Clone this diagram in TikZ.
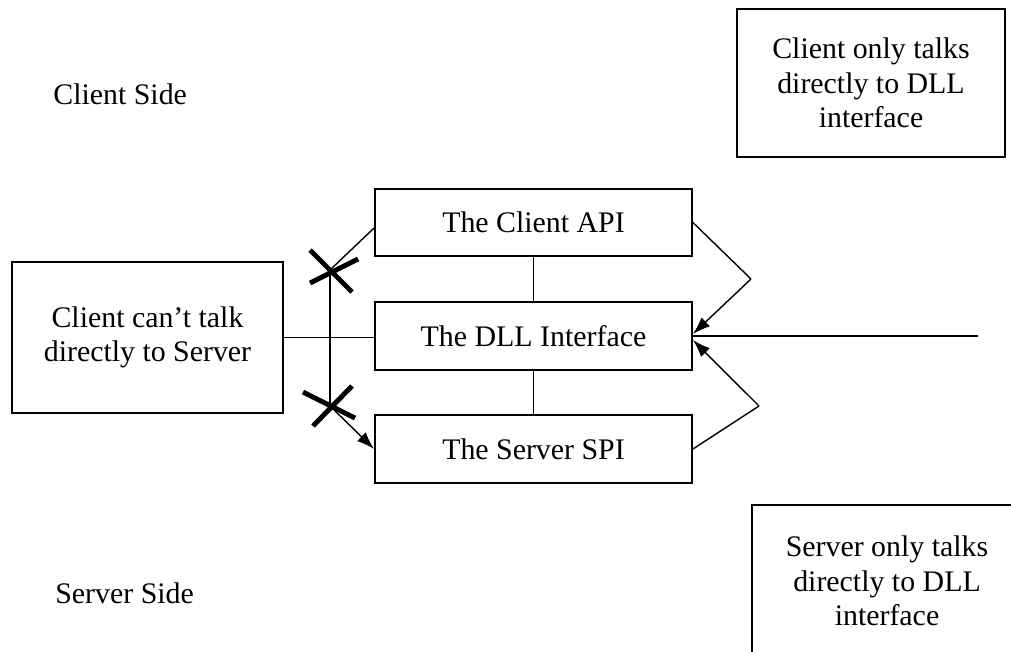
\documentclass[tikz,border=0pt]{standalone}
\usepackage{fontspec}
\setmainfont{Liberation Serif}
\usetikzlibrary{arrows.meta}
\tikzset{
  box/.style={draw, line width=1.1pt, inner sep=0pt, align=center, font=\fontsize{17}{19.5}\selectfont},
  plain/.style={inner sep=0pt, align=center, font=\fontsize{17}{19.5}\selectfont},
  frame/.style={line width=1.1pt},
  link/.style={line width=0.8pt},
  cross/.style={line width=2.8pt},
  tip/.style={-{Latex[length=10pt,width=7pt]}}
}
\begin{document}
\begin{tikzpicture}[x=0.02cm,y=-0.02cm]
\useasboundingbox (0,0) rectangle (1011,652);

\node[box, minimum width=6.34cm, minimum height=1.34cm] (api) at (533.5,222.5) {The Client API};
\node[box, minimum width=6.34cm, minimum height=1.36cm] (dll) at (533.5,336) {The DLL Interface};
\node[box, minimum width=6.34cm, minimum height=1.36cm] (spi) at (533.5,449) {The Server SPI};
\node[box, minimum width=5.42cm, minimum height=3.02cm] (cant) at (147.5,337.5) {Client can’t talk\\directly to Server};
\node[box, minimum width=5.36cm, minimum height=2.96cm] (conly) at (871,83) {Client only talks\\directly to DLL\\interface};
\node[plain] (sonly) at (887,581) {Server only talks\\directly to DLL\\interface};
\draw[frame] (752,652) |- (1011,505);

\node[plain, anchor=base west] (cside) at (53,105) {Client Side};
\node[plain, anchor=base west] (sside) at (55,603) {Server Side};

\coordinate (xa) at (330,270);
\coordinate (xb) at (330,406);
\coordinate (ra) at (751,279);
\coordinate (rb) at (759,406);
\coordinate (rc) at (978,336);

\draw[link] (cant.east) -- (cant.east -| dll.west);
\draw[link] (xa) -- (xb);
\draw[link] (xa) -- ([yshift=-0.11cm]api.west);
\draw[link,tip] (xb) -- (spi.west);
\draw[link] (api) -- (dll);
\draw[link] (dll) -- (spi);

\draw[link] (api.east) -- (ra);
\draw[link,tip] (ra) -- ([yshift=0.04cm]dll.east);
\draw[link] (spi.east) -- (rb);
\draw[link,tip] (rb) -- ([yshift=-0.08cm]dll.east);
\draw[link] (rc) -- (rc -| dll.east);

\draw[cross] (310,250) -- (352,292) (310,283) -- (358,259);
\draw[cross] (303,392) -- (355,418) (313,426) -- (352,386);
\end{tikzpicture}
\end{document}
